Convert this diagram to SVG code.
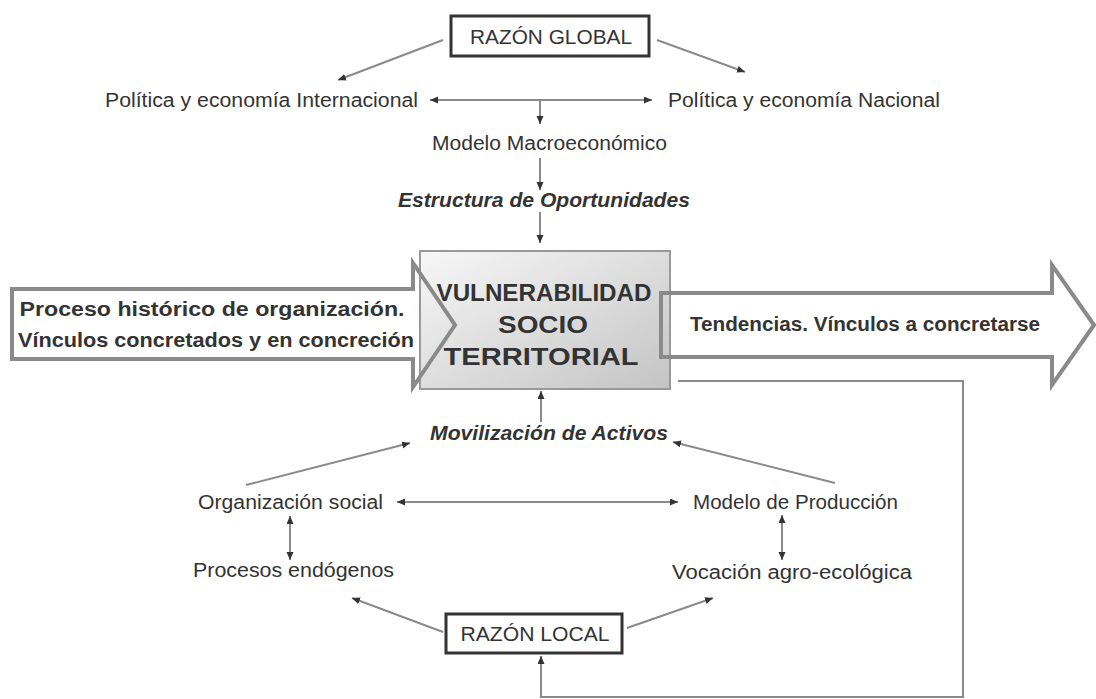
<svg xmlns="http://www.w3.org/2000/svg" width="1096" height="699" viewBox="0 0 1096 699">
<defs>
  <linearGradient id="boxGrad" x1="0" y1="0" x2="1" y2="1">
    <stop offset="0" stop-color="#f7f7f7"/>
    <stop offset="1" stop-color="#c4c4c4"/>
  </linearGradient>
  <marker id="ah" markerUnits="userSpaceOnUse" markerWidth="10" markerHeight="8" refX="8" refY="3.5" orient="auto-start-reverse">
    <path d="M0,0 L8,3.5 L0,7 z" fill="#333"/>
  </marker>
</defs>
<style>
  .t { font-family: "Liberation Sans", Arial, sans-serif; fill: #333; font-size: 20px; }
  .bi { font-weight: bold; font-style: italic; }
  .b { font-weight: bold; }
  .big-t { font-size: 24px; }
  .rz-t { font-size: 21px; }
  .ln { stroke: #8a8a8a; stroke-width: 2; fill: none; }
  .arr { marker-end: url(#ah); }
  .dbl { marker-start: url(#ah); marker-end: url(#ah); }
  .big { stroke: #8a8a8a; stroke-width: 4; stroke-linejoin: miter; }
  .rz { fill: #fff; stroke: #333; stroke-width: 3; }
</style>
<rect width="1096" height="699" fill="#fff"/>

<!-- big arrow fills (under box) -->
<polygon points="12,289 413,289 413,263 455,325 413,387 413,359 12,359" fill="#fff"/>
<polygon points="661,293 1052,293 1052,265 1094,325 1052,385 1052,357 661,357" fill="#fff"/>

<g id="vulnerabilidad">
  <rect x="420" y="251" width="250" height="138" fill="url(#boxGrad)" stroke="#999" stroke-width="2"/>
</g>

<g id="proceso-historico">
  <polygon class="big" points="12,289 413,289 413,263 455,325 413,387 413,359 12,359" fill="none"/>
  <text class="t b" x="212" y="316" text-anchor="middle" textLength="385" lengthAdjust="spacingAndGlyphs">Proceso histórico de organización.</text>
  <text class="t b" x="216" y="347" text-anchor="middle" textLength="396" lengthAdjust="spacingAndGlyphs">Vínculos concretados y en concreción</text>
</g>

<g id="tendencias">
  <polygon class="big" points="661,293 1052,293 1052,265 1094,325 1052,385 1052,357 661,357" fill="none"/>
  <text class="t b" x="865" y="331" text-anchor="middle" textLength="350" lengthAdjust="spacingAndGlyphs">Tendencias. Vínculos a concretarse</text>
</g>

<g id="vulnerabilidad-text">
  <text class="t b big-t" x="544" y="301" text-anchor="middle" textLength="215" lengthAdjust="spacingAndGlyphs">VULNERABILIDAD</text>
  <text class="t b big-t" x="543" y="333" text-anchor="middle" textLength="90" lengthAdjust="spacingAndGlyphs">SOCIO</text>
  <text class="t b big-t" x="541" y="365" text-anchor="middle" textLength="195" lengthAdjust="spacingAndGlyphs">TERRITORIAL</text>
</g>

<g id="razon-global">
  <rect class="rz" x="451" y="16" width="198" height="40"/>
  <text class="t rz-t" x="551" y="44" text-anchor="middle" textLength="162" lengthAdjust="spacingAndGlyphs">RAZÓN GLOBAL</text>
</g>

<g id="politica-internacional">
  <text class="t" x="105" y="107" textLength="313" lengthAdjust="spacingAndGlyphs">Política y economía Internacional</text>
</g>
<g id="politica-nacional">
  <text class="t" x="668" y="107" textLength="272" lengthAdjust="spacingAndGlyphs">Política y economía Nacional</text>
</g>
<g id="modelo-macro">
  <text class="t" x="432" y="150" textLength="235" lengthAdjust="spacingAndGlyphs">Modelo Macroeconómico</text>
</g>
<g id="estructura">
  <text class="t bi" x="398" y="207" textLength="292" lengthAdjust="spacingAndGlyphs">Estructura de Oportunidades</text>
</g>
<g id="movilizacion">
  <text class="t bi" x="430" y="440" textLength="238" lengthAdjust="spacingAndGlyphs">Movilización de Activos</text>
</g>
<g id="organizacion-social">
  <text class="t" x="198" y="509" textLength="185" lengthAdjust="spacingAndGlyphs">Organización social</text>
</g>
<g id="modelo-produccion">
  <text class="t" x="693" y="509" textLength="205" lengthAdjust="spacingAndGlyphs">Modelo de Producción</text>
</g>
<g id="procesos-endogenos">
  <text class="t" x="193" y="577" textLength="201" lengthAdjust="spacingAndGlyphs">Procesos endógenos</text>
</g>
<g id="vocacion">
  <text class="t" x="672" y="579" textLength="240" lengthAdjust="spacingAndGlyphs">Vocación agro-ecológica</text>
</g>
<g id="razon-local">
  <rect class="rz" x="446" y="614" width="176" height="39"/>
  <text class="t rz-t" x="535" y="641" text-anchor="middle" textLength="149" lengthAdjust="spacingAndGlyphs">RAZÓN LOCAL</text>
</g>

<g id="connectors">
  <line class="ln arr" x1="443" y1="40" x2="338" y2="80"/>
  <line class="ln arr" x1="657" y1="40" x2="745" y2="72"/>
  <line class="ln dbl" x1="430" y1="100" x2="652" y2="100"/>
  <line class="ln arr" x1="540" y1="100" x2="540" y2="124"/>
  <line class="ln arr" x1="540" y1="158" x2="540" y2="190"/>
  <line class="ln arr" x1="540" y1="212" x2="540" y2="243"/>
  <line class="ln arr" x1="541" y1="422" x2="541" y2="391"/>
  <line class="ln arr" x1="246" y1="485" x2="410" y2="443"/>
  <line class="ln arr" x1="835" y1="483" x2="673" y2="442"/>
  <line class="ln dbl" x1="397" y1="502" x2="678" y2="502"/>
  <line class="ln dbl" x1="290" y1="516" x2="290" y2="560"/>
  <line class="ln dbl" x1="782" y1="515" x2="782" y2="560"/>
  <line class="ln arr" x1="443" y1="632" x2="352" y2="598"/>
  <line class="ln arr" x1="627" y1="628" x2="713" y2="598"/>
  <polyline class="ln arr" points="678,381 963,381 963,697 541,697 541,656"/>
</g>
</svg>
